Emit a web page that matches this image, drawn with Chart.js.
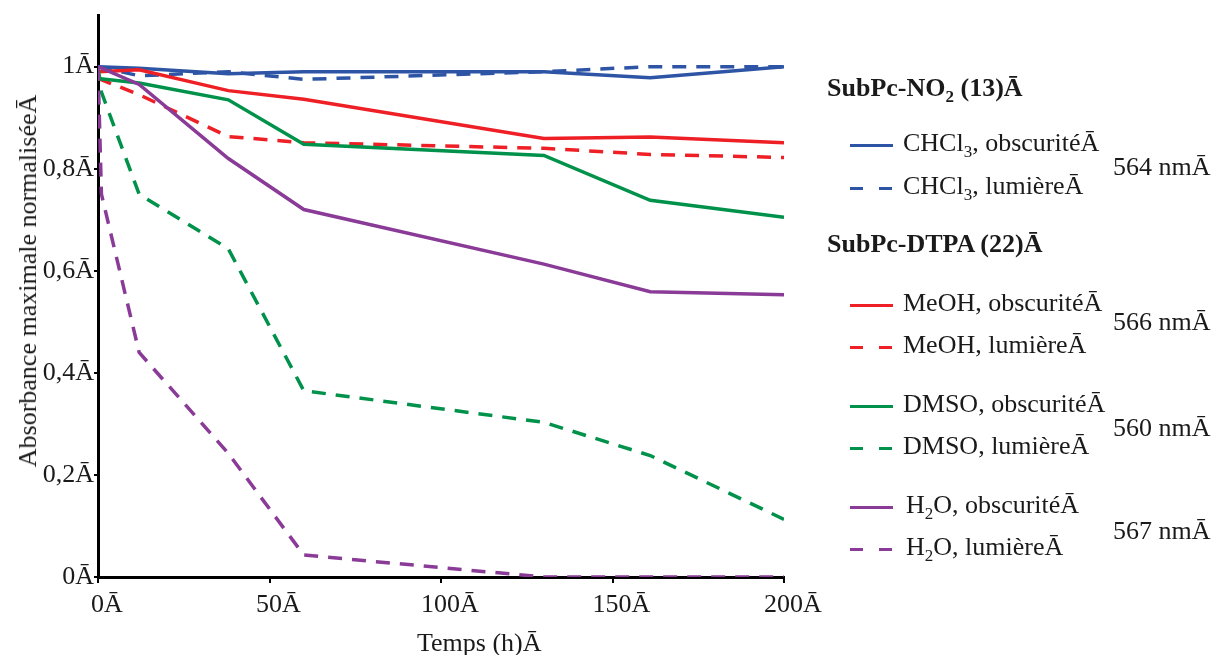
<!DOCTYPE html>
<html>
<head>
<meta charset="utf-8">
<script src="https://cdn.jsdelivr.net/npm/chart.js@4"></script>
<style>
  body { margin: 0; background: #fff; }
  #wrap { position: relative; width: 1213px; height: 655px; font-family: "Liberation Serif", serif; color: #1a1a1a; }
  #chart { position: absolute; left: 0; top: 0; }
  .lbl { position: absolute; font-size: 26px; line-height: 30px; height: 30px; white-space: nowrap; }
  .smp { display: inline-block; width: 43px; height: 3px; vertical-align: middle; margin-right: 10px; }
  sub { font-size: 17px; line-height: 0; vertical-align: -6px; }
  #ytitle { position: absolute; left: 28px; top: 281px; font-size: 26px; white-space: nowrap; transform: translate(-50%, -50%) rotate(-90deg); }
  #xtitle { position: absolute; left: 417px; top: 628px; font-size: 26px; line-height: 30px; white-space: nowrap; }
</style>
</head>
<body>
<div id="wrap">
  <canvas id="chart" width="1213" height="655"></canvas>
  <div id="ytitle">Absorbance maximale normaliséeĀ</div>
  <div id="xtitle">Temps (h)Ā</div>

  <div class="lbl" style="left:827px;top:73px"><b>SubPc-NO<sub>2</sub> (13)Ā</b></div>
  <div class="lbl" style="left:850px;top:128px"><span class="smp" style="background:#2e55a5"></span>CHCl<sub>3</sub>, obscuritéĀ</div>
  <div class="lbl" style="left:850px;top:171px"><span class="smp" style="background:repeating-linear-gradient(to right,#2e55a5 0 13px,transparent 13px 29px)"></span>CHCl<sub>3</sub>, lumièreĀ</div>
  <div class="lbl" style="left:1113px;top:152px">564 nmĀ</div>

  <div class="lbl" style="left:827px;top:229px"><b>SubPc-DTPA (22)Ā</b></div>
  <div class="lbl" style="left:850px;top:288px"><span class="smp" style="background:#ee1f25"></span>MeOH, obscuritéĀ</div>
  <div class="lbl" style="left:850px;top:330px"><span class="smp" style="background:repeating-linear-gradient(to right,#ee1f25 0 13px,transparent 13px 29px)"></span>MeOH, lumièreĀ</div>
  <div class="lbl" style="left:1113px;top:307px">566 nmĀ</div>

  <div class="lbl" style="left:850px;top:389px"><span class="smp" style="background:#00914a"></span>DMSO, obscuritéĀ</div>
  <div class="lbl" style="left:850px;top:431px"><span class="smp" style="background:repeating-linear-gradient(to right,#00914a 0 13px,transparent 13px 29px)"></span>DMSO, lumièreĀ</div>
  <div class="lbl" style="left:1113px;top:413px">560 nmĀ</div>

  <div class="lbl" style="left:850px;top:490px"><span class="smp" style="background:#8a3b97;margin-right:13px"></span>H<sub>2</sub>O, obscuritéĀ</div>
  <div class="lbl" style="left:850px;top:532px"><span class="smp" style="background:repeating-linear-gradient(to right,#8a3b97 0 13px,transparent 13px 29px);margin-right:13px"></span>H<sub>2</sub>O, lumièreĀ</div>
  <div class="lbl" style="left:1113px;top:516px">567 nmĀ</div>
</div>
<script>
// time points (h)
const times = [0, 1, 12, 38, 60, 130, 161, 200];

// normalised max absorbance (null = no point there)
const chcl3Dark  = [1.00, null, 0.997, 0.986, 0.99, 0.99, 0.978, 1.00];
const chcl3Light = [1.00, null, 0.982, 0.99, 0.975, 0.99, 1.00, 1.00];
const meohDark   = [0.99, null, 0.994, 0.953, 0.936, 0.859, 0.862, 0.851];
const meohLight  = [0.977, null, 0.945, 0.863, 0.851, 0.840, 0.828, 0.822];
const dmsoDark   = [0.977, null, 0.968, 0.935, 0.848, 0.826, 0.738, 0.705];
const dmsoLight  = [1.00, 0.95, 0.75, 0.643, 0.365, 0.303, 0.238, 0.113];
const h2oDark    = [1.00, null, 0.965, 0.82, 0.72, 0.613, 0.559, 0.553];
const h2oLight   = [1.00, 0.75, 0.44, 0.242, 0.043, 0.0, 0.0, 0.0];

const xTickLabels = ['0Ā', '50Ā', '100Ā', '150Ā', '200Ā'];
const yTickLabels = ['0Ā', '0,2Ā', '0,4Ā', '0,6Ā', '0,8Ā', '1Ā'];

const blue = '#2e55a5', red = '#ee1f25', green = '#00914a', purple = '#8a3b97';

function pts(vals) {
    // pair the values with the times, skip the missing ones
    const out = [];
    vals.forEach((v, i) => { if (v !== null) out.push({x: times[i], y: v}); });
    return out;
}

function line(label, vals, color, dashed) {
    return {
        label: label,
        data: pts(vals),
        borderColor: color,
        backgroundColor: color,
        borderWidth: 3.5,
        borderDash: dashed ? [14, 10] : [],
        pointRadius: 0,
        tension: 0,
        fill: false
    };
}

const tickFont = {family: 'Liberation Serif', size: 26};

const chart = new Chart(document.getElementById('chart').getContext('2d'), {
    type: 'line',
    data: {
        datasets: [
            line('H2O, lumière', h2oLight, purple, true),
            line('H2O, obscurité', h2oDark, purple, false),
            line('DMSO, lumière', dmsoLight, green, true),
            line('DMSO, obscurité', dmsoDark, green, false),
            line('MeOH, lumière', meohLight, red, true),
            line('MeOH, obscurité', meohDark, red, false),
            line('CHCl3, lumière', chcl3Light, blue, true),
            line('CHCl3, obscurité', chcl3Dark, blue, false)
        ]
    },
    options: {
        responsive: false,
        animation: false,
        layout: {padding: {left: 0, right: 429, top: 14, bottom: 0}},
        plugins: {legend: {display: false}, tooltip: {enabled: false}},
        scales: {
            x: {
                type: 'linear', min: 0, max: 200,
                afterFit: (s) => { s.height = 78; },
                border: {display: true, color: '#000', width: 3},
                grid: {display: true, drawOnChartArea: false, drawTicks: true, tickLength: 6, color: '#000', lineWidth: 2},
                ticks: {stepSize: 50, color: '#1a1a1a', font: tickFont, padding: 7, labelOffset: 9,
                        maxRotation: 0, callback: (v, i) => xTickLabels[i]}
            },
            y: {
                min: 0, max: 1.1,
                afterFit: (s) => { s.width = 98; },
                border: {display: true, color: '#000', width: 3},
                grid: {display: true, drawOnChartArea: false, drawTicks: true, tickLength: 4, color: '#000', lineWidth: 2},
                ticks: {stepSize: 0.2, includeBounds: false, color: '#1a1a1a', font: tickFont, padding: 0,
                        callback: (v, i) => yTickLabels[i]}
            }
        }
    }
});
</script>
</body>
</html>
